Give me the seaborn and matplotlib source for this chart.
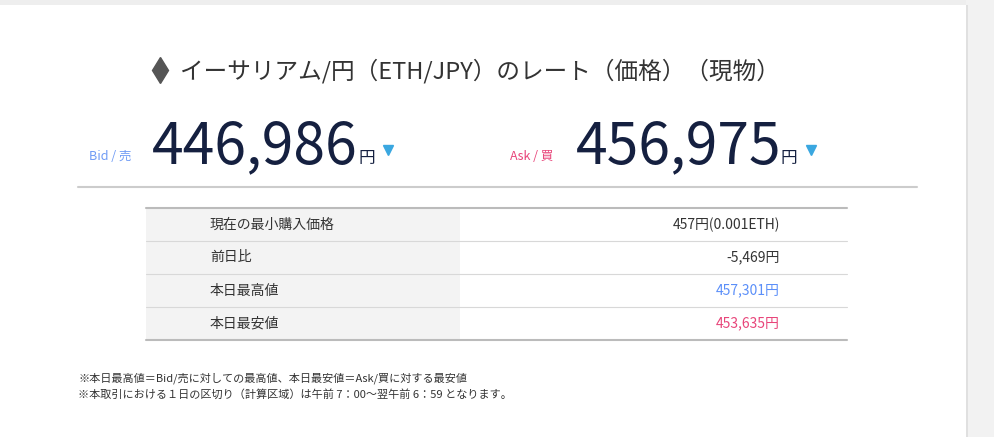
import matplotlib
matplotlib.use('Agg')
import matplotlib.pyplot as plt
import seaborn as sns
from matplotlib.patches import Rectangle

sns.set_style('white')
plt.rcParams['font.family'] = ['Noto Sans CJK JP', 'DejaVu Sans']

# data
title = 'イーサリアム/円（ETH/JPY）のレート（価格）（現物）'
bid_label = 'Bid / 売'
ask_label = 'Ask / 買'
bid_price = 446986
ask_price = 456975
row_labels = ['現在の最小購入価格', '前日比', '本日最高値', '本日最安値']
row_values = ['457円(0.001ETH)', '-5,469円', '457,301円', '453,635円']
row_colors = ['#333333', '#333333', '#5b8ff9', '#e8457a']
notes = ['※本日最高値＝Bid/売に対しての最高値、本日最安値＝Ask/買に対する最安値',
         '※本取引における１日の区切り（計算区域）は午前 7：00～翌午前 6：59 となります。']

navy = '#152040'
fig = plt.figure(figsize=(9.95, 4.37), dpi=100)
ax = fig.add_axes([0, 0, 1, 1])
ax.set_xlim(0, 995)
ax.set_ylim(437, 0)
ax.axis('off')

# panel frame
ax.add_patch(Rectangle((0, 0), 995, 5, color='#eeeeee', lw=0))
ax.add_patch(Rectangle((966, 0), 29, 437, color='#f2f2f2', lw=0))
ax.add_patch(Rectangle((966, 5), 1.5, 432, color='#e0e0e0', lw=0))

# title with eth icon
ax.plot(160, 70, marker='d', ms=13, color='#555555')
ax.text(180, 71, title, fontsize=17, color='#333333', va='center', ha='left')

# prices: number right-aligned so the yen sign sits right after it
ax.text(131, 160, bid_label, fontsize=9, color='#6f9bf5', va='baseline', ha='right')
ax.text(358, 163, f'{bid_price:,}', fontsize=41, color=navy, va='baseline', ha='right')
ax.text(358, 163, '円', fontsize=12, color=navy, va='baseline')
ax.plot(388, 150, marker='v', ms=7, color='#3aa7e0')
ax.text(553, 160, ask_label, fontsize=9, color='#e8457a', va='baseline', ha='right')
ax.text(781, 163, f'{ask_price:,}', fontsize=41, color=navy, va='baseline', ha='right')
ax.text(781, 163, '円', fontsize=12, color=navy, va='baseline')
ax.plot(811, 150, marker='v', ms=7, color='#3aa7e0')
ax.plot([78, 917], [187, 187], color='#cccccc', lw=1.5)

# table
top, h = 208, 33
for i, (lab, val, col) in enumerate(zip(row_labels, row_values, row_colors)):
    y = top + i * h
    ax.add_patch(Rectangle((146, y), 314, h, color='#f3f3f3', lw=0))
    ax.text(210, y + h / 2, lab, fontsize=10, color='#333333', va='center')
    ax.text(780, y + h / 2, val, fontsize=10, color=col, va='center', ha='right')
    ax.plot([146, 847], [y, y], color='#bbbbbb' if i == 0 else '#d8d8d8', lw=1.5 if i == 0 else 0.8)
ax.plot([146, 847], [top + 4 * h, top + 4 * h], color='#bbbbbb', lw=1.5)

for i, note in enumerate(notes):
    ax.text(78, 378 + i * 16, note, fontsize=8, color='#333333', va='center')

fig.savefig('out.png', dpi=100)
